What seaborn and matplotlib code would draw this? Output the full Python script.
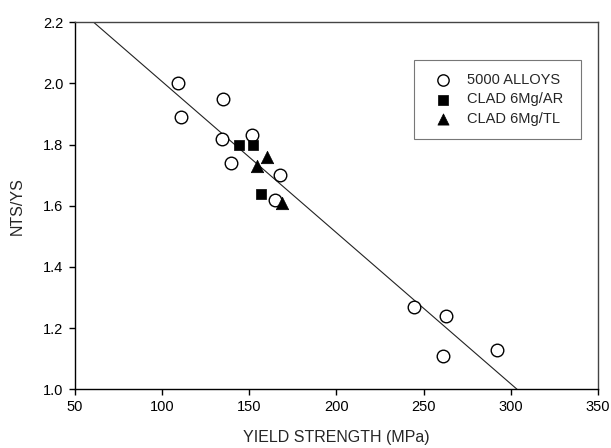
import matplotlib
matplotlib.use("Agg")
import matplotlib.pyplot as plt
import seaborn as sns
import pandas as pd

# ---- data ----
alloys_x = [109.3, 110.8, 135.3, 134.2, 139.7, 151.4, 167.8, 164.6, 244.7, 262.7, 261.1, 292.1]
alloys_y = [2.00, 1.89, 1.95, 1.82, 1.74, 1.83, 1.70, 1.62, 1.27, 1.24, 1.11, 1.13]
ar_x = [144.3, 152.5, 156.7]
ar_y = [1.80, 1.80, 1.64]
tl_x = [160.5, 154.4, 168.6]
tl_y = [1.76, 1.73, 1.61]
fit_x = [60.9, 303.6]
fit_y = [2.20, 1.00]

labels = ["5000 ALLOYS", "CLAD 6Mg/AR", "CLAD 6Mg/TL"]
x_ticks = [50, 100, 150, 200, 250, 300, 350]
y_ticks = [1.0, 1.2, 1.4, 1.6, 1.8, 2.0, 2.2]

sns.set_style("ticks")
plt.rcParams["font.family"] = ["Liberation Sans", "DejaVu Sans"]

fig = plt.figure(figsize=(6.11, 4.48), dpi=100)
ax = fig.add_axes([74.7 / 611, 1 - 389.3 / 448, (598 - 74.7) / 611, (389.3 - 22.3) / 448])

sns.lineplot(x=fit_x, y=fit_y, ax=ax, color="#222222", linewidth=0.8, zorder=1)

sns.scatterplot(x=alloys_x, y=alloys_y, ax=ax, marker="o", s=82, facecolor="white",
                edgecolor="black", linewidth=1.0, label=labels[0], zorder=3)
sns.scatterplot(x=ar_x, y=ar_y, ax=ax, marker="s", s=58, color="black",
                edgecolor="black", linewidth=0.5, label=labels[1], zorder=3)
sns.scatterplot(x=tl_x, y=tl_y, ax=ax, marker="^", s=80, color="black",
                edgecolor="black", linewidth=0.5, label=labels[2], zorder=3)

ax.set_xlim(50, 350)
ax.set_ylim(1.0, 2.2)
ax.set_xticks(x_ticks)
ax.set_yticks(y_ticks)
ax.set_yticklabels([f"{v:.1f}" for v in y_ticks])
ax.tick_params(direction="out", length=4.5, width=1.0, labelsize=10.5, colors="black")
for side in ["left", "bottom"]:
    ax.spines[side].set_color("black")
    ax.spines[side].set_linewidth(1.0)
for side in ["top", "right"]:
    ax.spines[side].set_visible(True)
    ax.spines[side].set_color("#444444")
    ax.spines[side].set_linewidth(1.0)

ax.set_xlabel("YIELD STRENGTH (MPa)", fontsize=11.5, labelpad=11)
ax.set_ylabel("NTS/YS", fontsize=11.5, labelpad=13)

leg = ax.legend(loc="upper left", bbox_to_anchor=(0.6484, 0.0, 0.319, 0.897),
                mode="expand", frameon=True, fancybox=False, shadow=False,
                fontsize=10.5, borderpad=0.9, handlelength=2.2, handletextpad=0.5,
                labelspacing=0.36, borderaxespad=0, markerscale=0.9)
leg.get_frame().set_edgecolor("#555555")
leg.get_frame().set_linewidth(0.8)

fig.savefig("out.png", dpi=100)
